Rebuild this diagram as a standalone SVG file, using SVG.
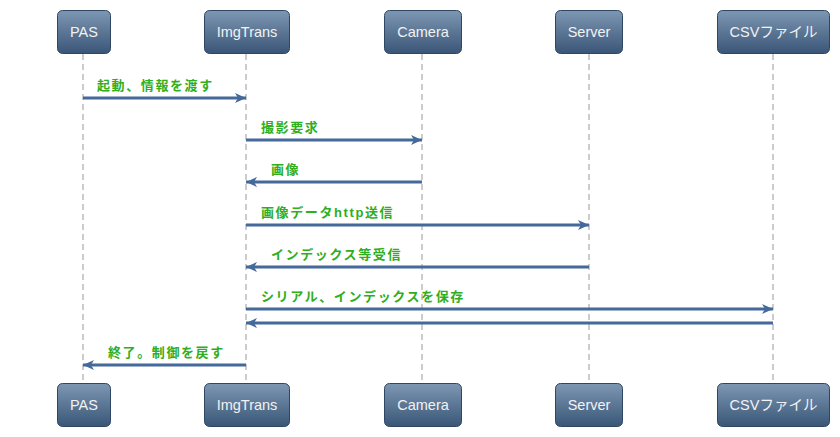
<svg xmlns="http://www.w3.org/2000/svg" width="840" height="437" viewBox="0 0 840 437">
<defs>
<linearGradient id="g" x1="0" y1="0" x2="0" y2="1">
<stop offset="0" stop-color="#7d97b3"/>
<stop offset="1" stop-color="#3a5677"/>
</linearGradient>
<marker id="ah" markerWidth="12" markerHeight="12" viewBox="0 0 12 12" refX="11" refY="6" orient="auto" markerUnits="userSpaceOnUse">
<path d="M0,1 L11,6 L0,11 L3,6 Z" fill="#44699a"/>
</marker>
</defs>
<style>
.box{fill:url(#g);stroke:#2f4763;stroke-width:1}
.nt{font-family:"Liberation Sans","Noto Sans CJK JP",sans-serif;font-size:14.5px;fill:#f2f2f2;text-anchor:middle}
.life{stroke:#999;stroke-width:1;stroke-dasharray:6,4;fill:none}
.msg{stroke:#44699a;stroke-width:3;fill:none;marker-end:url(#ah)}
.lbl{font-family:"Liberation Sans","Noto Sans CJK JP",sans-serif;font-size:13px;font-weight:bold;fill:#2fae1e;letter-spacing:1.6px}
</style>
<g id="lifelines">
<line class="life" x1="83" y1="54" x2="83" y2="383"/>
<line class="life" x1="246" y1="54" x2="246" y2="383"/>
<line class="life" x1="422" y1="54" x2="422" y2="383"/>
<line class="life" x1="589" y1="54" x2="589" y2="383"/>
<line class="life" x1="773" y1="54" x2="773" y2="383"/>
</g>
<g id="node-PAS">
<rect class="box" x="57.500" y="10.500" width="53" height="43" rx="5"/>
<text class="nt" x="84" y="37">PAS</text>
<rect class="box" x="57.500" y="383.500" width="53" height="43" rx="5"/>
<text class="nt" x="84" y="410">PAS</text>
</g>
<g id="node-ImgTrans">
<rect class="box" x="204.500" y="10.500" width="85" height="43" rx="5"/>
<text class="nt" x="247" y="37">ImgTrans</text>
<rect class="box" x="204.500" y="383.500" width="85" height="43" rx="5"/>
<text class="nt" x="247" y="410">ImgTrans</text>
</g>
<g id="node-Camera">
<rect class="box" x="384.500" y="10.500" width="77" height="43" rx="5"/>
<text class="nt" x="423" y="37">Camera</text>
<rect class="box" x="384.500" y="383.500" width="77" height="43" rx="5"/>
<text class="nt" x="423" y="410">Camera</text>
</g>
<g id="node-Server">
<rect class="box" x="555.500" y="10.500" width="67" height="43" rx="5"/>
<text class="nt" x="589" y="37">Server</text>
<rect class="box" x="555.500" y="383.500" width="67" height="43" rx="5"/>
<text class="nt" x="589" y="410">Server</text>
</g>
<g id="node-CSV">
<rect class="box" x="717.500" y="10.500" width="112" height="43" rx="5"/>
<text class="nt" x="773.500" y="37">CSVファイル</text>
<rect class="box" x="717.500" y="383.500" width="112" height="43" rx="5"/>
<text class="nt" x="773.500" y="410">CSVファイル</text>
</g>
<g id="connectors">
<line class="msg" x1="83" y1="98" x2="246" y2="98"/>
<text class="lbl" x="97" y="90">起動、情報を渡す</text>
<line class="msg" x1="246" y1="140" x2="422" y2="140"/>
<text class="lbl" x="261" y="132">撮影要求</text>
<line class="msg" x1="422" y1="182" x2="246" y2="182"/>
<text class="lbl" x="271" y="174">画像</text>
<line class="msg" x1="246" y1="225" x2="589" y2="225"/>
<text class="lbl" x="261" y="217">画像データhttp送信</text>
<line class="msg" x1="589" y1="267" x2="246" y2="267"/>
<text class="lbl" x="271" y="259">インデックス等受信</text>
<line class="msg" x1="246" y1="309" x2="773" y2="309"/>
<text class="lbl" x="261" y="301">シリアル、インデックスを保存</text>
<line class="msg" x1="773" y1="323" x2="246" y2="323"/>
<line class="msg" x1="246" y1="365" x2="83" y2="365"/>
<text class="lbl" x="108" y="357">終了。制御を戻す</text>
</g>
</svg>
